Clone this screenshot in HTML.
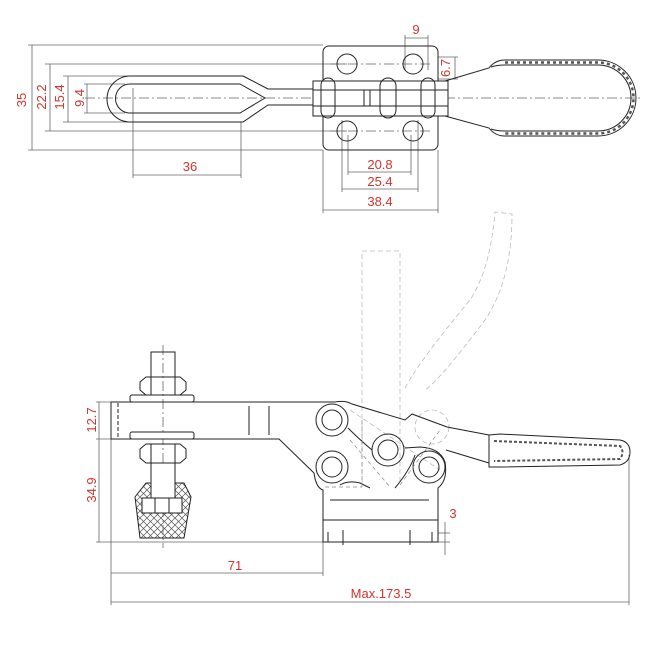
<!DOCTYPE html>
<html><head><meta charset="utf-8"><style>
html,body{margin:0;padding:0;background:#fff;}
svg{display:block}
text{font-family:"Liberation Sans",sans-serif;font-size:13px;fill:#d2342c}
</style></head><body>
<svg width="650" height="650" viewBox="0 0 650 650" xmlns="http://www.w3.org/2000/svg">
<defs>
<pattern id="hx" width="7" height="7" patternUnits="userSpaceOnUse">
<path d="M0 0L7 7M7 0L0 7" stroke="#555" stroke-width="0.7"/>
</pattern>
</defs>
<g fill="none" stroke="#666" stroke-width="0.8">
<line x1="28" y1="45" x2="323" y2="45"/><line x1="28" y1="150" x2="323" y2="150"/>
<line x1="32" y1="45" x2="32" y2="150"/>
<line x1="45" y1="64" x2="347" y2="64"/><line x1="45" y1="131" x2="347" y2="131"/>
<line x1="50" y1="64" x2="50" y2="131"/>
<line x1="63" y1="76" x2="130" y2="76"/><line x1="63" y1="122" x2="130" y2="122"/>
<line x1="68" y1="76" x2="68" y2="122"/>
<line x1="84" y1="84" x2="125" y2="84"/><line x1="84" y1="113" x2="125" y2="113"/>
<line x1="87" y1="84" x2="87" y2="113"/>
<line x1="133" y1="88" x2="133" y2="178"/><line x1="241" y1="122" x2="241" y2="178"/>
<line x1="133" y1="175" x2="241" y2="175"/>
<line x1="323" y1="150" x2="323" y2="213"/><line x1="438" y1="150" x2="438" y2="213"/>
<line x1="323" y1="210" x2="438" y2="210"/>
<line x1="342" y1="120" x2="342" y2="192"/><line x1="418" y1="120" x2="418" y2="192"/>
<line x1="342" y1="189" x2="418" y2="189"/>
<line x1="348" y1="135" x2="348" y2="175"/><line x1="411" y1="135" x2="411" y2="175"/>
<line x1="348" y1="172" x2="411" y2="172"/>
<line x1="405" y1="35" x2="405" y2="70"/><line x1="428" y1="35" x2="428" y2="70"/>
<line x1="405" y1="38" x2="428" y2="38"/>
<line x1="438" y1="57" x2="458" y2="57"/><line x1="438" y1="79" x2="458" y2="79"/>
<line x1="455" y1="57" x2="455" y2="79"/>
<line x1="85" y1="98" x2="640" y2="98" stroke-dasharray="10 3 2 3"/>
<line x1="330" y1="64" x2="430" y2="64" stroke-dasharray="10 3 2 3"/>
<line x1="330" y1="131" x2="430" y2="131" stroke-dasharray="10 3 2 3"/>
</g>
<g fill="none" stroke="#222" stroke-width="1">
<path d="M243 76 L130 76 A23 23 0 0 0 130 122 L243 122 L268 105 L313 105 M268 89 L243 76 M268 89 L313 89"/>
<path d="M240 84 L130 84 A14.5 14.5 0 0 0 130 113 L240 113 L265 98 Z"/>
<rect x="323" y="46" width="115" height="104" rx="6"/>
<circle cx="347" cy="64" r="10"/><circle cx="413" cy="64" r="10"/>
<circle cx="347" cy="131" r="10"/><circle cx="413" cy="131" r="10"/>
<rect x="313" y="81" width="135" height="35" fill="#fff"/>
<line x1="313" y1="90" x2="448" y2="90"/><line x1="313" y1="106" x2="448" y2="106"/>
<rect x="321" y="78" width="14" height="40" rx="7"/>
<rect x="380" y="78" width="16" height="40" rx="8"/>
<rect x="421" y="78" width="14" height="40" rx="7"/>
<line x1="364" y1="90" x2="364" y2="106"/><line x1="370" y1="90" x2="370" y2="106"/>
<path d="M445 81 L489 68 Q495 60 505 60 L598 60 A38 38 0 0 1 598 136 L505 136 Q495 136 489 128 L445 116"/>
<path d="M491 67 Q497 65 505 65 L598 65 A33 33 0 0 1 598 131 L505 131 Q497 131 491 129"/>
<path d="M505 62.5 L598 62.5 A35.5 35.5 0 0 1 598 133.5 L505 133.5" stroke-dasharray="3 3" stroke-width="2.5" stroke="#555"/>
</g>
<text x="22" y="100" transform="rotate(-90 22 100)" text-anchor="middle" dy="4">35</text>
<text x="42" y="97" transform="rotate(-90 42 97)" text-anchor="middle" dy="4">22.2</text>
<text x="60" y="97" transform="rotate(-90 60 97)" text-anchor="middle" dy="4">15.4</text>
<text x="80" y="98" transform="rotate(-90 80 98)" text-anchor="middle" dy="4">9.4</text>
<text x="190" y="171" text-anchor="middle">36</text>
<text x="380" y="169" text-anchor="middle">20.8</text>
<text x="380" y="186" text-anchor="middle">25.4</text>
<text x="380" y="206" text-anchor="middle">38.4</text>
<text x="416" y="34" text-anchor="middle">9</text>
<text x="446" y="68" transform="rotate(-90 446 68)" text-anchor="middle" dy="4">6.7</text>

<g fill="none" stroke="#bbb" stroke-width="0.8" stroke-dasharray="5 3">
<path d="M362 483 L362 251 L400 251 L400 483"/>
<path d="M405 388 Q420 360 470 300 Q490 270 495 212 L512 214 Q512 280 485 320 Q440 380 425 390"/>
<circle cx="432" cy="427" r="17"/>
<line x1="350" y1="410" x2="440" y2="470"/>
</g>
<g fill="none" stroke="#666" stroke-width="0.8">
<line x1="163" y1="345" x2="163" y2="548" stroke-dasharray="10 3 2 3"/>
<line x1="96" y1="402" x2="130" y2="402"/><line x1="96" y1="439" x2="130" y2="439"/>
<line x1="96" y1="542" x2="323" y2="542"/>
<line x1="99" y1="402" x2="99" y2="542"/>
<line x1="111" y1="439" x2="111" y2="605"/>
<line x1="323" y1="542" x2="323" y2="576"/>
<line x1="111" y1="573" x2="323" y2="573"/>
<line x1="629" y1="455" x2="629" y2="605"/>
<line x1="111" y1="602" x2="629" y2="602"/>
<line x1="438" y1="533" x2="450" y2="533"/><line x1="438" y1="542" x2="450" y2="542"/>
<line x1="445" y1="522" x2="445" y2="555"/>
</g>
<g fill="none" stroke="#222" stroke-width="1">
<path d="M111 402 L335 402 M111 402 L111 439 L279 439 L314 473"/>
<line x1="118" y1="403" x2="118" y2="438" stroke-dasharray="4 2"/>
<line x1="249" y1="406" x2="249" y2="435"/><line x1="269" y1="406" x2="269" y2="435"/>
<rect x="151" y="352" width="24" height="25"/>
<path d="M140 382 L146 377 L180 377 L186 382 L186 390 L180 395 L146 395 L140 390 Z"/>
<line x1="151" y1="377" x2="151" y2="395"/><line x1="175" y1="377" x2="175" y2="395"/>
<rect x="130" y="395" width="64" height="7" rx="2"/>
<rect x="130" y="432" width="64" height="7" rx="2" fill="#fff"/>
<path d="M140 449 L146 444 L180 444 L186 449 L186 458 L180 463 L146 463 L140 458 Z"/>
<line x1="151" y1="444" x2="151" y2="463"/><line x1="175" y1="444" x2="175" y2="463"/>
<path d="M135 497 L146 483 L184 483 L191 497 L184 538 L140 538 Z" fill="url(#hx)"/>
<rect x="151" y="463" width="24" height="35" fill="#fff"/>
<rect x="142" y="498" width="40" height="15" fill="#fff"/>
<line x1="155" y1="498" x2="155" y2="513"/><line x1="169" y1="498" x2="169" y2="513"/>
<path d="M314 473 Q316 488 323 490 L323 542 L438 542 L438 488 Q448 480 445 462 Q440 448 420 447 L405 448"/>
<path d="M340 485 Q348 480 360 483 L370 488 M395 488 Q410 470 415 455"/>
<line x1="323" y1="520" x2="438" y2="520"/><line x1="330" y1="500" x2="429" y2="500"/>
<line x1="343" y1="530" x2="343" y2="545"/><line x1="410" y1="530" x2="410" y2="545"/>
<line x1="328" y1="532" x2="328" y2="542"/><line x1="432" y1="532" x2="432" y2="542"/>
<circle cx="332" cy="420" r="16"/><circle cx="332" cy="420" r="10"/>
<circle cx="332" cy="467" r="16"/><circle cx="332" cy="467" r="10"/>
<circle cx="388" cy="450" r="16"/><circle cx="388" cy="450" r="10"/>
<circle cx="429" cy="467" r="16"/><circle cx="429" cy="467" r="10"/>
<path d="M348 428 Q360 440 372 450"/>
<path d="M335 402 Q345 400 352 404 L405 420 L412 414 L447 427 L489 435 M446 450 L489 463"/>
<path d="M489 435 L500 434 L620 440 Q630 442 630 452 Q630 462 620 465 L500 467 L489 467 L489 435"/>
<path d="M494 441 L620 446 Q625 452 620 459 L494 461" stroke-dasharray="3 2" stroke-width="2" stroke="#555"/>
</g>
<g fill="none" stroke="#888" stroke-width="0.7" stroke-dasharray="4 3">
<line x1="350" y1="440" x2="390" y2="487"/><line x1="400" y1="485" x2="440" y2="430"/>
<line x1="362" y1="420" x2="362" y2="487"/><line x1="325" y1="487" x2="362" y2="487"/>
</g>
<text x="92" y="420" transform="rotate(-90 92 420)" text-anchor="middle" dy="4">12.7</text>
<text x="92" y="490" transform="rotate(-90 92 490)" text-anchor="middle" dy="4">34.9</text>
<text x="235" y="570" text-anchor="middle">71</text>
<text x="381" y="598" text-anchor="middle">Max.173.5</text>
<text x="453" y="518" text-anchor="middle">3</text>
</svg>
</body></html>
